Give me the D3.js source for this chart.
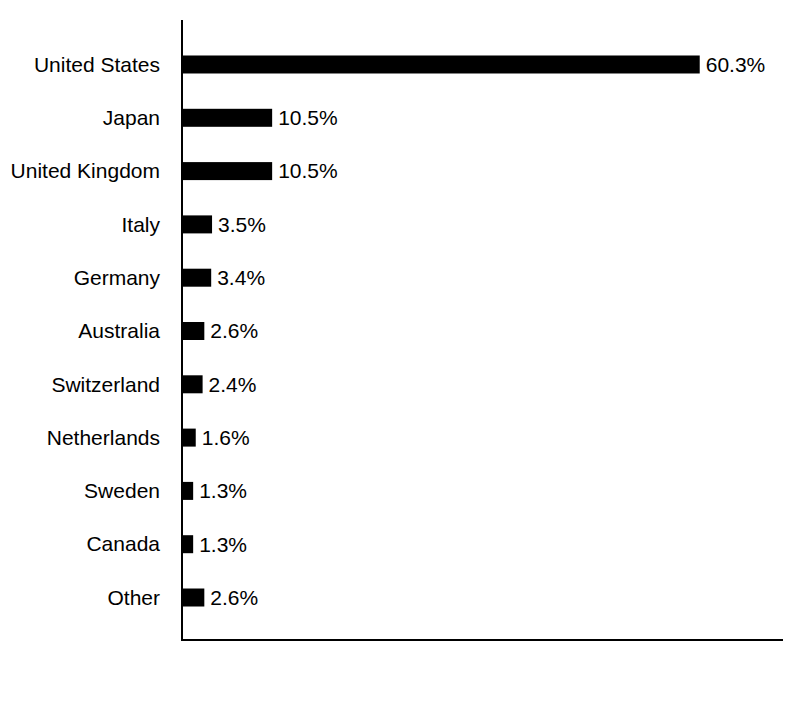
<!DOCTYPE html>
<html><head><meta charset="utf-8">
<script src="https://cdn.jsdelivr.net/npm/d3@7"></script>
<style>body{margin:0;background:#fff}svg{display:block}</style>
</head><body>
<svg id="c" width="804" height="720"></svg>
<script>
const categories = ["United States","Japan","United Kingdom","Italy","Germany","Australia","Switzerland","Netherlands","Sweden","Canada","Other"];
const values = [60.3,10.5,10.5,3.5,3.4,2.6,2.4,1.6,1.3,1.3,2.6];
const valueLabels = ["60.3%","10.5%","10.5%","3.5%","3.4%","2.6%","2.4%","1.6%","1.3%","1.3%","2.6%"];

const svg = d3.select("#c");
const x0 = 182, x1 = 783, yTop = 20, yBot = 640;
const x = d3.scaleLinear().domain([0,70]).range([x0,x1]);
const y = d3.scalePoint().domain(categories).range([yTop+1,yBot+1]).padding(0.816);
const barH = 18;
const font = "Liberation Sans, Arial, sans-serif";

svg.selectAll("rect.bar").data(categories).enter().append("rect")
  .attr("x", x(0)).attr("y", d => y(d) - barH/2)
  .attr("width", (d,i) => x(values[i]) - x(0)).attr("height", barH)
  .attr("fill", "#000");

svg.selectAll("text.val").data(categories).enter().append("text")
  .attr("x", (d,i) => x(values[i]) + 6).attr("y", d => y(d))
  .attr("dy", "0.35em").attr("font-family", font).attr("font-size", 21)
  .attr("fill", "#000").text((d,i) => valueLabels[i]);

const yAxis = svg.append("g").attr("transform", `translate(${x0},0)`)
  .call(d3.axisLeft(y).tickSize(0).tickPadding(22));
yAxis.select(".domain").attr("stroke", "#000").attr("stroke-width", 2).attr("d", `M0,${yTop}V${yBot}`);
yAxis.selectAll("text").attr("font-family", font).attr("font-size", 21).attr("fill", "#000");

svg.append("line").attr("x1", x0-1).attr("x2", x1).attr("y1", yBot).attr("y2", yBot)
  .attr("stroke", "#000").attr("stroke-width", 2);
</script>
</body></html>
